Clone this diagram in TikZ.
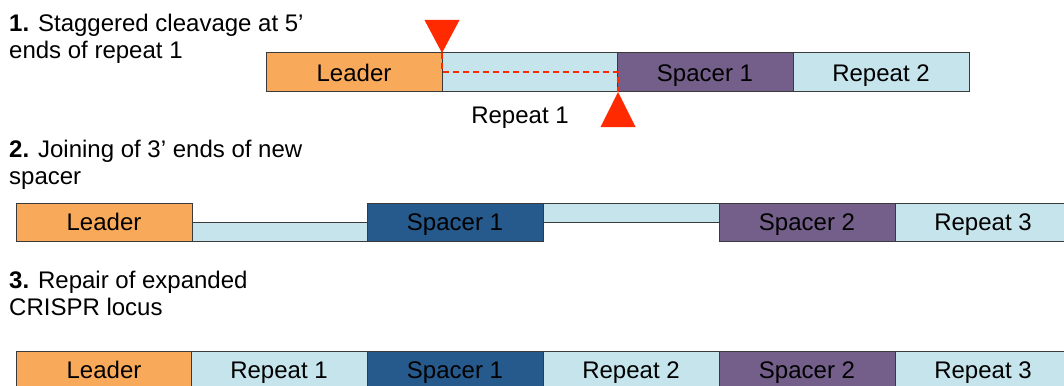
\documentclass[tikz,border=0pt]{standalone}
\usepackage{fontspec}
\setmainfont{Liberation Sans}
\definecolor{leaderc}{HTML}{F9A95A}
\definecolor{repeatc}{HTML}{C5E4EC}
\definecolor{spacerA}{HTML}{275A8C}
\definecolor{spacerB}{HTML}{735F8A}
\definecolor{cutred}{HTML}{FF2A00}
\definecolor{edgec}{HTML}{3A3A3A}
\tikzset{
  seg/.style={draw=edgec, line width=1pt, minimum width=176pt, minimum height=38pt,
    inner sep=0pt, outer sep=0pt, anchor=north west, text=black,
    text height=17.5pt, text depth=0pt,
    font=\fontsize{24}{28}\selectfont},
  leaderbox/.style={seg, fill=leaderc},
  repeatbox/.style={seg, fill=repeatc},
  spacerone/.style={seg, fill=spacerA},
  spacertwo/.style={seg, fill=spacerB},
  strip/.style={draw=edgec, line width=1pt, fill=repeatc},
  % the base anchor of a two-line note sits on its last line
  stepnote/.style={anchor=base west, align=left, inner sep=0pt,
    font=\fontsize{24}{27}\selectfont},
  cutline/.style={draw=cutred, line width=2pt, dash pattern=on 6pt off 4pt},
  cutmark/.style={fill=cutred}
}
\begin{document}
\begin{tikzpicture}[x=1pt,y=-1pt]
\clip (0,0) rectangle (1064,385);
\fill[white] (0,0) rectangle (1064,385);

% step 1: cleavage
\node[stepnote] (n1) at (9,59) {\textbf{1.} Staggered cleavage at 5’\\ends of repeat 1};
\node[leaderbox, minimum height=39pt] (a1) at (266,53) {Leader};
\node[repeatbox, minimum height=39pt] (a2) at (442,53) {};
\node[spacertwo, minimum height=39pt] (a3) at (617,53) {Spacer 1};
\node[repeatbox, minimum height=39pt] (a4) at (793,53) {Repeat 2};
\node[font=\fontsize{24}{28}\selectfont, inner sep=0pt] (rlab) at (520,118) {Repeat 1};
\draw[cutline] (a2.north west) -- (a2.west) -- (a2.east) -- (a2.south east);
\fill[cutmark] (a2.north west) -- ++(-17.5,-33) -- ++(35,0) -- cycle;
\fill[cutmark] (a2.south east) -- ++(-17.5,35) -- ++(35,0) -- cycle;

% step 2: joining
\node[stepnote] (n2) at (9,184) {\textbf{2.} Joining of 3’ ends of new\\spacer};
\node[leaderbox] (b1) at (16,203) {Leader};
\node[spacerone] (b3) at (367,203) {Spacer 1};
\node[spacertwo] (b5) at (719,203) {Spacer 2};
\node[repeatbox] (b6) at (895,203) {Repeat 3};
\draw[strip] (b1.east) rectangle (b3.south west);
\draw[strip] (b3.north east) rectangle (b5.west);

% step 3: repair
\node[stepnote] (n3) at (9,315) {\textbf{3.} Repair of expanded\\CRISPR locus};
\node[leaderbox] (c1) at (16,351) {Leader};
\node[repeatbox] (c2) at (191,351) {Repeat 1};
\node[spacerone] (c3) at (367,351) {Spacer 1};
\node[repeatbox] (c4) at (543,351) {Repeat 2};
\node[spacertwo] (c5) at (719,351) {Spacer 2};
\node[repeatbox] (c6) at (895,351) {Repeat 3};
\end{tikzpicture}
\end{document}
